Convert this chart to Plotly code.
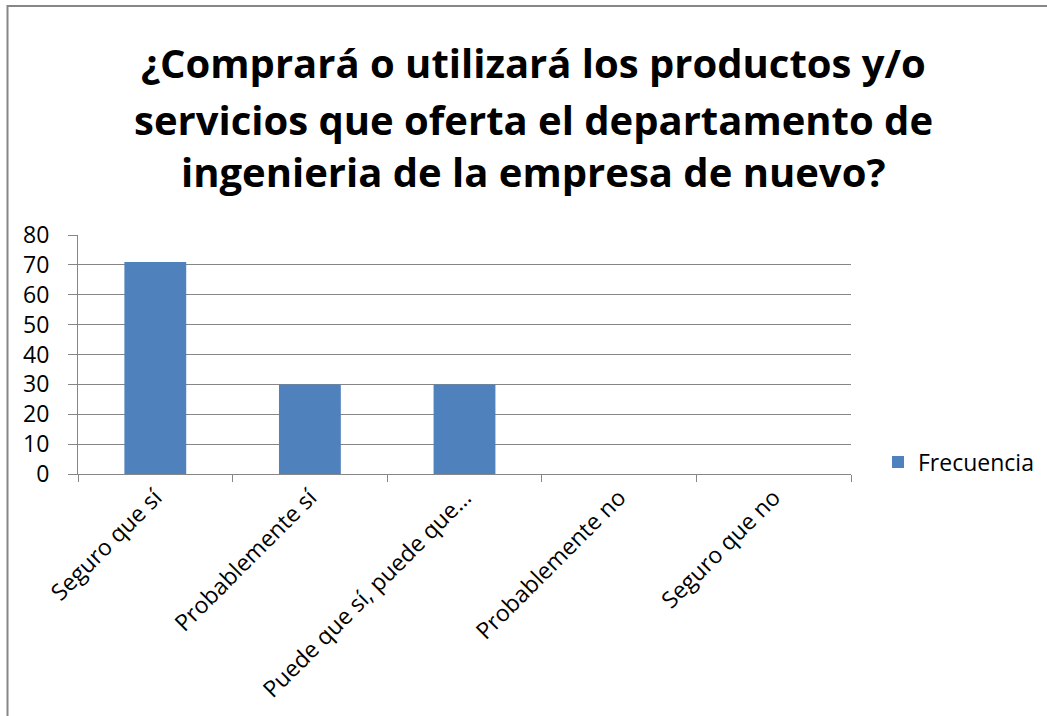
import plotly.graph_objects as go

categories = ["Seguro que sí", "Probablemente sí", "Puede que sí, puede que…", "Probablemente no", "Seguro que no"]
values = [71, 30, 30, 0, 0]
series_name = "Frecuencia"
title_lines = ["¿Comprará o utilizará los productos y/o",
               "servicios que oferta el departamento de",
               "ingenieria de la empresa de nuevo?"]
y_ticks = [0, 10, 20, 30, 40, 50, 60, 70, 80]

W, H = 1047, 716
L, R, T, B = 78, 851, 235, 474  # plot area pixels

def px_x(p):
    return (p - L) / (R - L)

def px_y(p):
    return (B - p) / (B - T)

FONT = "Open Sans"
GRAY = "#868686"

fig = go.Figure()
fig.add_trace(go.Bar(x=categories, y=values, name=series_name,
                     marker=dict(color="#4F81BD", line=dict(width=0)),
                     showlegend=True))

annotations = []
for line, yp in zip(title_lines, [63, 119, 172]):
    annotations.append(dict(text="<b>" + line + "</b>", x=px_x(533), y=px_y(yp),
                            xref="paper", yref="paper", xanchor="center", yanchor="middle",
                            showarrow=False, font=dict(family=FONT, size=40, color="black")))

fig.update_layout(
    width=W, height=H,
    margin=dict(l=L, r=W - R, t=T, b=H - B, autoexpand=False),
    paper_bgcolor="white", plot_bgcolor="white",
    template="none",
    bargap=0.6,
    showlegend=True,
    legend=dict(x=px_x(878), y=px_y(462), xanchor="left", yanchor="middle",
                font=dict(family=FONT, size=23, color="black"), bgcolor="rgba(0,0,0,0)"),
    annotations=annotations,
    shapes=[dict(type="rect", xref="paper", yref="paper",
                 x0=px_x(7.5), x1=px_x(1100), y0=px_y(800), y1=px_y(6),
                 line=dict(color="#878787", width=2), fillcolor="rgba(0,0,0,0)", layer="below")],
    xaxis=dict(type="category", range=[-0.5, 4.5], showline=True, linecolor=GRAY, linewidth=1,
               ticks="outside", tickson="boundaries", ticklen=7, tickcolor=GRAY, tickwidth=1,
               tickangle=-45, showgrid=False, zeroline=False, automargin=False,
               tickfont=dict(family=FONT, size=23, color="black")),
    yaxis=dict(range=[0, 80], tickvals=y_ticks, showline=True, linecolor=GRAY, linewidth=1,
               ticks="outside", ticklen=9, tickcolor=GRAY, tickwidth=1,
               showgrid=True, gridcolor=GRAY, gridwidth=1, zeroline=False, automargin=False,
               ticklabelstandoff=14,
               tickfont=dict(family=FONT, size=23, color="black")),
)

fig.write_html("out.html")
